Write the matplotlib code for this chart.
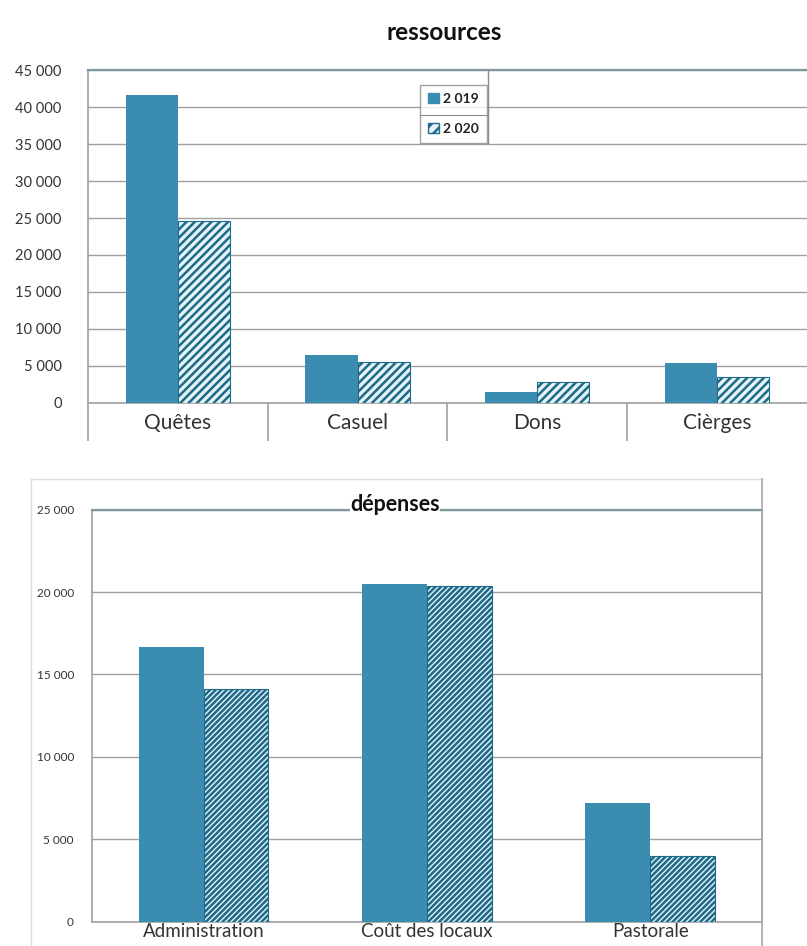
import matplotlib
matplotlib.use("Agg")
import matplotlib.pyplot as plt
import matplotlib.patches as mpatches
from matplotlib.lines import Line2D
from matplotlib.ticker import FuncFormatter
import numpy as np

plt.rcParams['font.family'] = ['Lato', 'DejaVu Sans']
plt.rcParams['hatch.linewidth'] = 1.8

# data
years = ["2 019", "2 020"]
res_cats = ["Quêtes", "Casuel", "Dons", "Cièrges"]
res_2019 = [41600, 6500, 1500, 5400]
res_2020 = [24650, 5600, 2800, 3450]
dep_cats = ["Administration", "Coût des locaux", "Pastorale"]
dep_2019 = [16650, 20500, 7200]
dep_2020 = [14100, 20400, 4000]

BLUE = "#3a8db0"
HATCH_EDGE = "#1f6a88"
HATCH_FACE = "#e4f3f8"
GRID = "#a0a0a0"
FRAME = "#7f98a0"
TXT = "#333333"

def thousands(v, pos):
    return f"{int(v):,}".replace(",", " ")

def draw_bars(ax, cats, v19, v20, width, hatch):
    x = np.arange(len(cats))
    b1 = ax.bar(x - width / 2, v19, width, color=BLUE, edgecolor=BLUE, linewidth=0, zorder=3)
    b2 = ax.bar(x + width / 2, v20, width, color=HATCH_FACE, edgecolor=HATCH_EDGE,
                hatch=hatch, linewidth=0.8, zorder=3)
    ax.set_xlim(-0.5, len(cats) - 0.5)
    ax.set_xticks(x)
    ax.set_xticklabels(cats)
    ax.yaxis.set_major_formatter(FuncFormatter(thousands))
    ax.grid(axis="y", color=GRID, linewidth=1.0, zorder=0)
    ax.set_axisbelow(True)
    ax.spines["right"].set_visible(False)
    ax.spines["top"].set_color(FRAME)
    ax.spines["top"].set_linewidth(1.6)
    ax.spines["left"].set_color(GRID)
    ax.spines["bottom"].set_color(GRID)
    ax.spines["left"].set_linewidth(1.2)
    ax.spines["bottom"].set_linewidth(1.2)
    return b1, b2

fig = plt.figure(figsize=(8.07, 9.46), dpi=100)

# ---- ressources ----
ax1 = fig.add_axes([0.109, 0.574, 0.891, 0.352])
draw_bars(ax1, res_cats, res_2019, res_2020, 0.29, "////")
ax1.set_ylim(0, 45000)
ax1.set_yticks(np.arange(0, 45001, 5000))
ax1.tick_params(axis="y", length=0, labelsize=10.5, pad=19, labelcolor=TXT)
ax1.tick_params(axis="x", which="major", length=0, labelsize=15, pad=7, labelcolor=TXT)
ax1.set_xticks([-0.5, 0.5, 1.5, 2.5], minor=True)
ax1.tick_params(axis="x", which="minor", length=27, width=1.2, color=GRID)
fig.text(0.551, 0.966, "ressources", ha="center", va="center",
         fontsize=17.5, fontweight="bold", color="#111111")

# legend in a little boxed table
handles = [mpatches.Patch(facecolor=BLUE, edgecolor=BLUE),
           mpatches.Patch(facecolor=HATCH_FACE, edgecolor=HATCH_EDGE, hatch="///")]
leg = ax1.legend(handles, years, loc="upper left", bbox_to_anchor=(0.462, 0.955),
                 frameon=True, fancybox=False, edgecolor="#8a8a8a", fontsize=10,
                 handlelength=0.8, handleheight=0.8, handletextpad=0.3,
                 borderpad=0.55, labelspacing=1.3, borderaxespad=0)
leg.get_frame().set_linewidth(1.0)
for t in leg.get_texts():
    t.set_fontweight("bold")
    t.set_color("#222222")
ax1.add_line(Line2D([0.557, 0.557], [0.78, 1.0], transform=ax1.transAxes,
                    color="#8a8a8a", linewidth=1.0, zorder=5))
ax1.add_line(Line2D([0.462, 0.557], [0.865, 0.865], transform=ax1.transAxes,
                    color="#8a8a8a", linewidth=0.8, zorder=6))

# ---- dépenses ----
ax2 = fig.add_axes([0.114, 0.0257, 0.830, 0.4355])
draw_bars(ax2, dep_cats, dep_2019, dep_2020, 0.29, "//////")
ax2.set_ylim(0, 25000)
ax2.set_yticks(np.arange(0, 25001, 5000))
ax2.tick_params(axis="y", length=0, labelsize=8.5, pad=13, labelcolor=TXT)
ax2.tick_params(axis="x", length=0, labelsize=13.5, pad=1, labelcolor=TXT)
ax2.spines["right"].set_visible(True)
ax2.spines["right"].set_color(GRID)
ax2.spines["right"].set_linewidth(1.2)
ax2.text(0.452, 1.012, "dépenses", transform=ax2.transAxes, ha="center", va="center",
         fontsize=15.5, fontweight="bold", color="#111111", zorder=10,
         bbox=dict(facecolor="white", edgecolor="none", pad=0.3))

# light outer frame of the lower chart
fig.add_artist(Line2D([0.039, 0.944], [0.494, 0.494], color="#dddddd", linewidth=1.0))
fig.add_artist(Line2D([0.039, 0.039], [0.0, 0.494], color="#dddddd", linewidth=1.0))
fig.add_artist(Line2D([0.944, 0.944], [0.0, 0.494], color="#a8a8a8", linewidth=1.2))

fig.savefig("out.png", dpi=100)
